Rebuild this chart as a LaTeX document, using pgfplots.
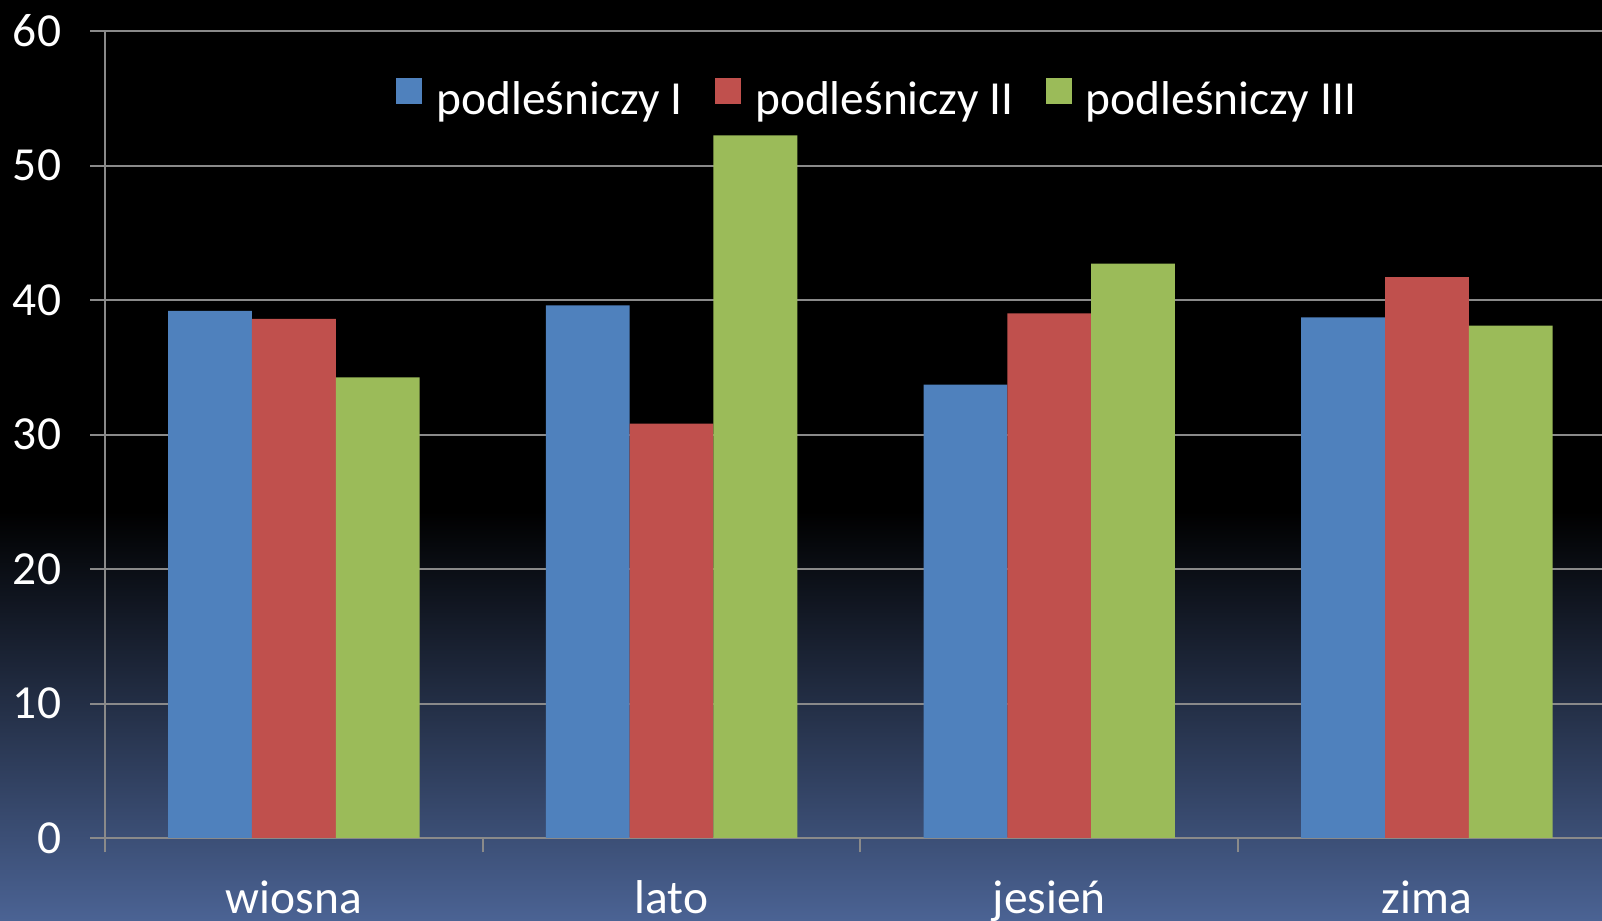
\documentclass[border=0pt]{standalone}
\usepackage{fontspec}
\setmainfont{Carlito}
\usepackage{pgfplots}
\pgfplotsset{compat=1.18}
\definecolor{cblue}{HTML}{4F81BD}
\definecolor{cred}{HTML}{C0504D}
\definecolor{cgreen}{HTML}{9BBB59}
\definecolor{gridc}{HTML}{8A8A8A}
\definecolor{bgbot}{HTML}{4B6394}
\newcommand{\fs}{\fontsize{13.5}{16}\selectfont}
\begin{document}
\begin{tikzpicture}
\useasboundingbox (0,0) rectangle (16.02cm,9.21cm);
\clip (0,0) rectangle (16.02cm,9.21cm);
\fill[black] (0,0) rectangle (16.02cm,9.21cm);
\shade[bottom color=bgbot, top color=black] (0,0) rectangle (16.02cm,4.1cm);
\begin{axis}[
 at={(10.5mm,8.3mm)}, anchor=south west,
 scale only axis, width=151.08mm, height=80.7mm,
 xmin=-0.5, xmax=3.5, ymin=0, ymax=60,
 axis x line*=bottom, axis y line*=left,
 axis line style={gridc, line width=0.2mm, -},
 xtick={-0.5,0.5,1.5,2.5,3.5},
 xticklabels={wiosna,lato,jesień,zima},
 x tick label as interval,
 ytick={0,10,...,60},
 tick align=outside, major tick length=1.45mm,
 tick style={gridc, line width=0.2mm},
 ymajorgrids, grid style={gridc, line width=0.2mm},
 ticklabel style={font=\fs, text=white},
 xticklabel style={anchor=base, yshift=-6.1mm},
 yticklabel style={xshift=-1.7mm},
 /pgf/number format/assume math mode=true,
 legend style={at={(0.5105,0.9157)}, anchor=center, draw=none, fill=none,
   text=white, font=\fs, legend columns=3, nodes={inner sep=0pt},
   /tikz/every odd column/.style={column sep=1.4mm},
   /tikz/every even column/.style={column sep=3.25mm}},
]
\addplot[ybar, bar width=8.38mm, bar shift=-8.38mm, fill=cblue, draw=none,
  legend image code/.code={\fill[cblue] (0mm,-0.3mm) rectangle (2.6mm,2.3mm);}]
  coordinates {(0,39.2) (1,39.6) (2,33.7) (3,38.7)};
\addplot[ybar, bar width=8.38mm, bar shift=0mm, fill=cred, draw=none,
  legend image code/.code={\fill[cred] (0mm,-0.3mm) rectangle (2.6mm,2.3mm);}]
  coordinates {(0,38.6) (1,30.8) (2,39.0) (3,41.7)};
\addplot[ybar, bar width=8.38mm, bar shift=8.38mm, fill=cgreen, draw=none,
  legend image code/.code={\fill[cgreen] (0mm,-0.3mm) rectangle (2.6mm,2.3mm);}]
  coordinates {(0,34.25) (1,52.25) (2,42.7) (3,38.1)};
\legend{podleśniczy I, podleśniczy II, podleśniczy III}
\end{axis}
\end{tikzpicture}
\end{document}
